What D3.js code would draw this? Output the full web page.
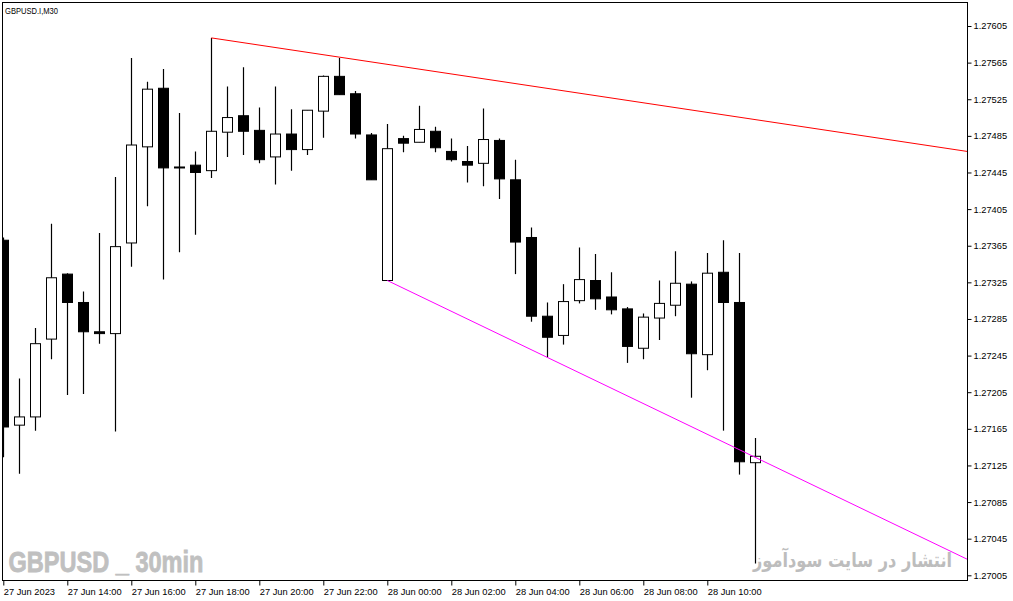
<!DOCTYPE html>
<html>
<head>
<meta charset="utf-8">
<script src="https://cdn.jsdelivr.net/npm/d3@7"></script>
<style>
    body { margin: 0; background: #fff; }
    text { font-family: 'Liberation Sans', Arial, sans-serif; }
</style>
</head>
<body>
<div class="visContainer"></div>
<script>
// Chart data (GBPUSD 30 min bars).
const opens  = [1.27371, 1.27169, 1.27178, 1.27263, 1.27334, 1.27303, 1.27271, 1.27269, 1.27368, 1.27473,
                1.27537, 1.27451, 1.27453, 1.27447, 1.27489, 1.27507, 1.27491, 1.27462, 1.27487, 1.27470,
                1.27512, 1.27550, 1.27531, 1.27486, 1.27327, 1.27482, 1.27478, 1.27490, 1.27468, 1.27457,
                1.27455, 1.27480, 1.27437, 1.27374, 1.27288, 1.27267, 1.27305, 1.27327, 1.27309, 1.27296,
                1.27253, 1.27286, 1.27300, 1.27323, 1.27246, 1.27336, 1.27303, 1.27128];
const highs  = [1.27374, 1.27220, 1.27275, 1.27389, 1.27335, 1.27315, 1.27379, 1.27440, 1.27570, 1.27544,
                1.27558, 1.27510, 1.27468, 1.27592, 1.27539, 1.27560, 1.27516, 1.27539, 1.27514, 1.27513,
                1.27551, 1.27570, 1.27534, 1.27488, 1.27498, 1.27485, 1.27518, 1.27495, 1.27482, 1.27474,
                1.27515, 1.27482, 1.27459, 1.27385, 1.27303, 1.27323, 1.27363, 1.27356, 1.27336, 1.27298,
                1.27291, 1.27327, 1.27359, 1.27326, 1.27357, 1.27371, 1.27357, 1.27155];
const lows   = [1.27134, 1.27116, 1.27163, 1.27241, 1.27202, 1.27203, 1.27258, 1.27162, 1.27342, 1.27408,
                1.27328, 1.27358, 1.27377, 1.27439, 1.27462, 1.27464, 1.27455, 1.27432, 1.27447, 1.27464,
                1.27483, 1.27530, 1.27482, 1.27437, 1.27327, 1.27467, 1.27478, 1.27467, 1.27457, 1.27434,
                1.27430, 1.27416, 1.27334, 1.27282, 1.27243, 1.27257, 1.27302, 1.27295, 1.27290, 1.27237,
                1.27241, 1.27262, 1.27288, 1.27199, 1.27229, 1.27163, 1.27115, 1.27018];
const closes = [1.27167, 1.27178, 1.27258, 1.27330, 1.27303, 1.27271, 1.27269, 1.27364, 1.27475, 1.27536,
                1.27450, 1.27450, 1.27445, 1.27490, 1.27505, 1.27490, 1.27459, 1.27487, 1.27470, 1.27513,
                1.27550, 1.27530, 1.27487, 1.27437, 1.27471, 1.27477, 1.27492, 1.27472, 1.27459, 1.27453,
                1.27481, 1.27438, 1.27369, 1.27288, 1.27265, 1.27304, 1.27328, 1.27307, 1.27295, 1.27255,
                1.27287, 1.27302, 1.27324, 1.27247, 1.27335, 1.27303, 1.27129, 1.27135];

// Price axis ticks.
const priceTicks = [1.27005, 1.27045, 1.27085, 1.27125, 1.27165, 1.27205, 1.27245, 1.27285,
                    1.27325, 1.27365, 1.27405, 1.27445, 1.27485, 1.27525, 1.27565, 1.27605];

// Time axis labels, one every 4 bars.
const timeLabels = ['27 Jun 2023', '27 Jun 14:00', '27 Jun 16:00', '27 Jun 18:00', '27 Jun 20:00',
                    '27 Jun 22:00', '28 Jun 00:00', '28 Jun 02:00', '28 Jun 04:00', '28 Jun 06:00',
                    '28 Jun 08:00', '28 Jun 10:00'];

// Trend lines: [bar, price] start and second anchor (ray to the right).
const resistanceLine = [[13, 1.27592], [21, 1.27571]];
const supportLine = [[24, 1.27327], [34, 1.27243]];

const bars = opens.map((o, i) => ({ i: i, o: o, h: highs[i], l: lows[i], c: closes[i] }));

// SVG constants.
const width = 1013;
const height = 601;
const plotLeft = 2.5, plotTop = 2.5, plotRight = 967.5, plotBottom = 580.5;

const x = d3.scaleLinear().domain([0, 47]).range([3.3, 755.3]);
const y = d3.scaleLinear().domain([1.27005, 1.27605]).range([575.3, 26]);

const svg = d3.select('.visContainer')
              .append('svg')
              .attr('width', width)
              .attr('height', height);

svg.append('defs')
   .append('clipPath')
   .attr('id', 'plot')
   .append('rect')
   .attr('x', plotLeft)
   .attr('y', plotTop)
   .attr('width', plotRight - plotLeft)
   .attr('height', plotBottom - plotTop);

// Watermarks.
svg.append('text')
   .attr('x', 8.5)
   .attr('y', 572)
   .attr('textLength', 195)
   .attr('lengthAdjust', 'spacingAndGlyphs')
   .style('font-family', "'Liberation Sans Narrow', 'Liberation Sans', sans-serif")
   .style('font-weight', 'bold')
   .style('font-size', '30px')
   .attr('fill', '#c0c0c0')
   .attr('stroke', '#c0c0c0')
   .attr('stroke-width', 0.8)
   .text('GBPUSD _ 30min');

svg.append('text')
   .attr('x', 952)
   .attr('y', 567)
   .attr('text-anchor', 'end')
   .attr('textLength', 199)
   .attr('lengthAdjust', 'spacingAndGlyphs')
   .style('font-family', "'DejaVu Sans', sans-serif")
   .style('font-weight', 'bold')
   .style('font-size', '20px')
   .attr('fill', '#bdbdbd')
   .text('انتشار در سایت سودآموز');

const plot = svg.append('g').attr('clip-path', 'url(#plot)');

// Candles.
const candle = plot.selectAll('g.candle')
                   .data(bars)
                   .enter()
                   .append('g')
                   .attr('class', 'candle');

candle.append('line')
      .attr('x1', (d) => Math.round(x(d.i)) + 0.5)
      .attr('x2', (d) => Math.round(x(d.i)) + 0.5)
      .attr('y1', (d) => y(d.h))
      .attr('y2', (d) => y(d.l))
      .attr('stroke', '#000')
      .attr('stroke-width', 1.2);

candle.append('rect')
      .attr('x', (d) => Math.round(x(d.i)) - 4.5)
      .attr('y', (d) => y(Math.max(d.o, d.c)))
      .attr('width', 10)
      .attr('height', (d) => Math.max(1, Math.abs(y(d.o) - y(d.c))))
      .attr('fill', (d) => d.c > d.o ? '#fff' : '#000')
      .attr('stroke', '#000')
      .attr('stroke-width', 1);

// Trend lines, extended to the right border.
const lastBar = x.invert(plotRight);
function ray(pts) {
    const slope = (pts[1][1] - pts[0][1]) / (pts[1][0] - pts[0][0]);
    return [pts[0], [lastBar, pts[0][1] + slope * (lastBar - pts[0][0])]];
}
const lineGen = d3.line().x((d) => x(d[0])).y((d) => y(d[1]));

plot.append('path')
    .attr('d', lineGen(ray(resistanceLine)))
    .attr('fill', 'none')
    .attr('stroke', '#ff0000')
    .attr('stroke-width', 1);

plot.append('path')
    .attr('d', lineGen(ray(supportLine)))
    .attr('fill', 'none')
    .attr('stroke', '#ff00ff')
    .attr('stroke-width', 1);

// Frame.
svg.append('rect')
   .attr('x', plotLeft)
   .attr('y', plotTop)
   .attr('width', plotRight - plotLeft)
   .attr('height', plotBottom - plotTop)
   .attr('fill', 'none')
   .attr('stroke', '#000')
   .attr('stroke-width', 1);

// Symbol title.
svg.append('text')
   .attr('x', 5)
   .attr('y', 14)
   .attr('textLength', 53)
   .attr('lengthAdjust', 'spacingAndGlyphs')
   .style('font-size', '9.5px')
   .attr('fill', '#000')
   .text('GBPUSD.I,M30');

// Price axis.
const priceAxis = svg.append('g')
                     .attr('transform', 'translate(' + plotRight + ',0)')
                     .call(d3.axisRight(y)
                             .tickValues(priceTicks)
                             .tickFormat(d3.format('.5f'))
                             .tickSize(4)
                             .tickPadding(2));
priceAxis.select('.domain').remove();
priceAxis.selectAll('line').attr('stroke', '#000');
priceAxis.selectAll('text')
         .style('font-size', '9.3px')
         .style('font-family', "'Liberation Sans', Arial, sans-serif")
         .attr('fill', '#000');

// Time axis.
const timeAxis = svg.append('g')
                    .attr('transform', 'translate(0,' + plotBottom + ')')
                    .call(d3.axisBottom(x)
                            .tickValues(timeLabels.map((d, i) => i * 4))
                            .tickFormat((d, i) => timeLabels[i])
                            .tickSize(5)
                            .tickPadding(3));
timeAxis.select('.domain').remove();
timeAxis.selectAll('line').attr('stroke', '#000');
timeAxis.selectAll('text')
        .attr('text-anchor', 'start')
        .attr('x', 0)
        .style('font-size', '9.3px')
        .style('font-family', "'Liberation Sans', Arial, sans-serif")
        .attr('fill', '#000');
</script>
</body>
</html>
